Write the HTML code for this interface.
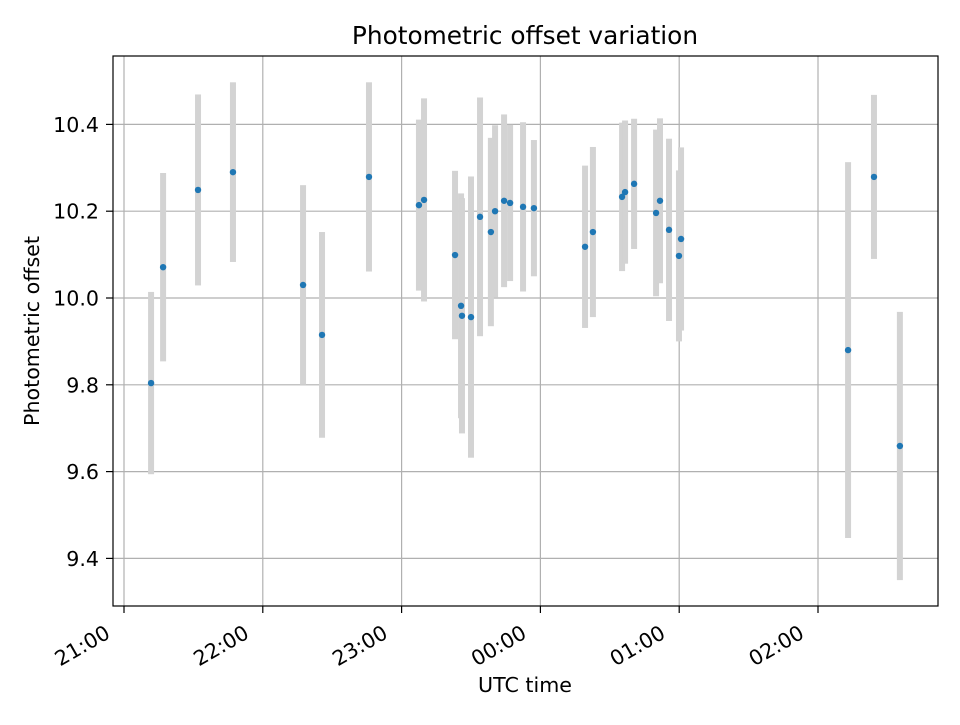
<!DOCTYPE html>
<html><head><meta charset="utf-8"><style>
body{margin:0;background:#fff;}
svg text{font-family:"DejaVu Sans","Liberation Sans",sans-serif;fill:#000;}
</style></head><body>
<svg id="chart" width="960" height="720" xmlns="http://www.w3.org/2000/svg">
<rect x="0" y="0" width="960" height="720" fill="#fff"/>
<g id="grid"></g>
<g id="bars"></g>
<g id="pts"></g>
<rect x="113" y="56" width="825" height="550" fill="none" stroke="#000" stroke-width="1.2"/>
<g id="ticks"></g>
<text x="525" y="44" font-size="24.8" text-anchor="middle">Photometric offset variation</text>
<text x="525" y="692" font-size="20.6" text-anchor="middle">UTC time</text>
<text x="39" y="331" font-size="20.6" text-anchor="middle" transform="rotate(-90 39 331)">Photometric offset</text>
</svg>
<script>
// minutes after 21:00 UTC
const times=[11.7,16.9,32.0,47.1,77.4,85.6,105.9,127.5,129.7,143.1,145.7,146.1,150.0,153.9,158.6,160.4,164.3,166.9,172.5,177.2,199.3,202.7,215.3,216.6,220.5,230.0,231.7,235.6,239.9,240.8,313.0,324.2,335.4];
const values=[9.804,10.071,10.249,10.290,10.030,9.915,10.279,10.214,10.226,10.099,9.982,9.959,9.956,10.187,10.152,10.200,10.224,10.219,10.210,10.207,10.118,10.152,10.233,10.244,10.263,10.196,10.224,10.157,10.097,10.136,9.880,10.279,9.659];
const errors=[0.210,0.217,0.220,0.207,0.230,0.237,0.218,0.197,0.234,0.194,0.259,0.271,0.324,0.275,0.217,0.198,0.199,0.180,0.195,0.157,0.187,0.196,0.171,0.165,0.150,0.192,0.190,0.210,0.197,0.211,0.433,0.189,0.309];
const xTicks=[0,60,120,180,240,300];
const xTickLabels=["21:00","22:00","23:00","00:00","01:00","02:00"];
const yTicks=[9.4,9.6,9.8,10.0,10.2,10.4];
const yTickLabels=["9.4","9.6","9.8","10.0","10.2","10.4"];
const NS="http://www.w3.org/2000/svg";
const X=m=>124+m*138.8/60;
const Y=v=>298-(v-10)*434;
function mk(tag,attrs,parent){const e=document.createElementNS(NS,tag);for(const k in attrs)e.setAttribute(k,attrs[k]);document.getElementById(parent).appendChild(e);return e;}
xTicks.forEach((t,i)=>{
  const x=X(t);
  const g=mk('line',{x1:x,x2:x,y1:56,y2:606,stroke:'#b0b0b0','stroke-width':1.2},'grid');
  
  
  const tk=mk('line',{x1:x,x2:x,y1:606,y2:613,stroke:'#000','stroke-width':1.2},'ticks');
  
  
  const ex=x-12.5, ey=637;
  const tx=mk('text',{x:ex,y:ey,'font-size':20.6,'text-anchor':'end',transform:`rotate(-30 ${ex} ${ey})`},'ticks');
  tx.textContent=xTickLabels[i];
  
  
});
yTicks.forEach((t,i)=>{
  const y=Y(t);
  const g=mk('line',{x1:113,x2:938,y1:y,y2:y,stroke:'#b0b0b0','stroke-width':1.2},'grid');
  
  
  const tk=mk('line',{x1:106,x2:113,y1:y,y2:y,stroke:'#000','stroke-width':1.2},'ticks');
  
  
  const tx=mk('text',{x:99,y:y+7.5,'font-size':20.6,'text-anchor':'end'},'ticks');
  tx.textContent=yTickLabels[i];
  
  
});
times.forEach((t,i)=>{
  const x=X(t);
  const b=mk('rect',{x:x-3,y:Y(values[i]+errors[i]),width:6,height:errors[i]*2*434,fill:'#d3d3d3'},'bars');
  
  
});
times.forEach((t,i)=>{
  const p=mk('circle',{cx:X(t),cy:Y(values[i]),r:3.2,fill:'#1f77b4'},'pts');
  
  
});
</script>
</body></html>
